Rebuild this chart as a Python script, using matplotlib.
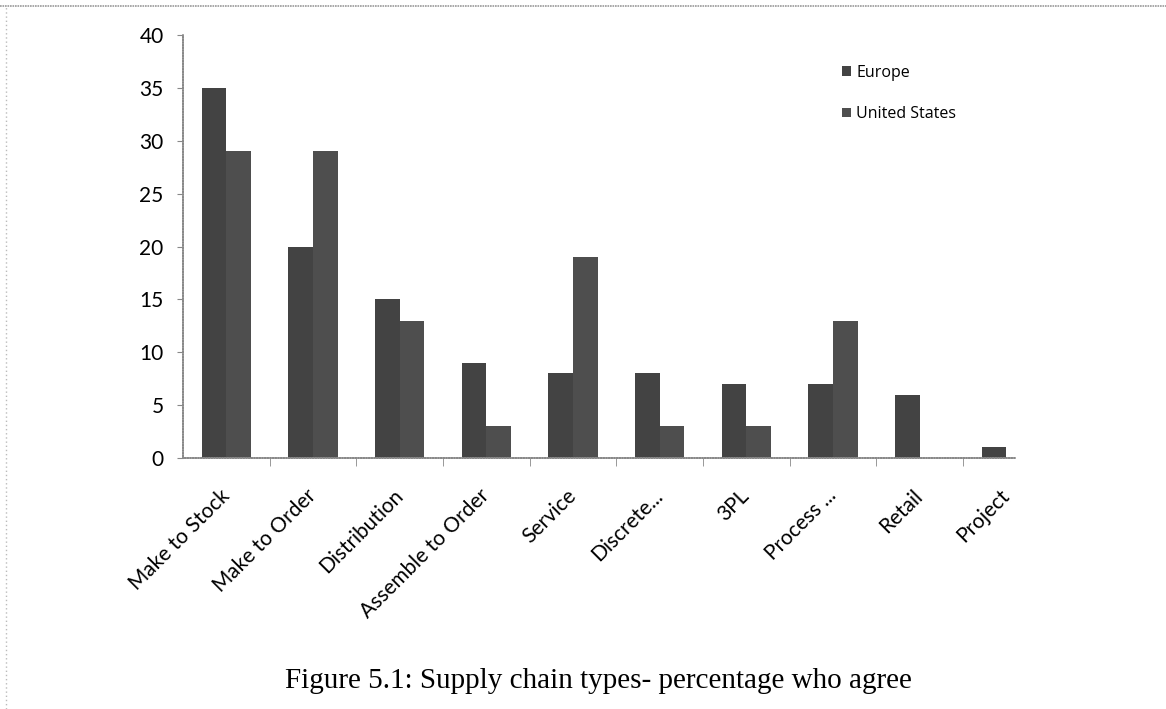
import matplotlib
matplotlib.use("Agg")
import matplotlib.pyplot as plt
from matplotlib.lines import Line2D
import numpy as np

# supply chain types, % who agree
categories = ["Make to Stock", "Make to Order", "Distribution", "Assemble to Order",
              "Service", "Discrete...", "3PL", "Process ...", "Retail", "Project"]
europe = [35, 20, 15, 9, 8, 8, 7, 7, 6, 1]
united_states = [29, 29, 13, 3, 19, 3, 3, 13, 0, 0]
series_names = ["Europe", "United States"]
y_ticks = [0, 5, 10, 15, 20, 25, 30, 35, 40]

fig = plt.figure(figsize=(11.66, 7.09), dpi=100)
ax = fig.add_axes([0.157, 0.354, 0.7135, 0.5966])

x = np.arange(len(categories))
w = 1 / 3.5
ax.bar(x - w / 2, europe, w, color="#434343", label=series_names[0])
ax.bar(x + w / 2, united_states, w, color="#4e4e4e", label=series_names[1])

ax.set_xlim(-0.5, 9.1)
ax.set_ylim(0, 40)
ax.set_yticks(y_ticks)
ax.tick_params(axis="y", labelsize=15, length=4, color="#888888", pad=10)
for t in ax.get_yticklabels():
    t.set_family("Lato")

# labels at the group centres, tick marks between groups
ax.set_xticks(x)
ax.set_xticklabels(categories, rotation=45, ha="right", va="center",
                   rotation_mode="anchor", fontsize=15, family="Lato")
ax.tick_params(axis="x", length=0, pad=25)
ax.set_xticks(x[:-1] + 0.5, minor=True)
ax.tick_params(axis="x", which="minor", length=6, color="#888888")

for s in ["top", "right"]:
    ax.spines[s].set_visible(False)
for s in ["left", "bottom"]:
    ax.spines[s].set_color("#888888")
    ax.spines[s].set_linewidth(1.2)
    ax.spines[s].set_linestyle((0, (1, 0.6)))

ax.legend(loc="upper left", bbox_to_anchor=(0.792, 0.93), frameon=False,
          prop={"family": "Open Sans", "size": 11.5}, handlelength=0.55,
          handleheight=0.55, handletextpad=0.35, labelspacing=1.6,
          borderpad=0, borderaxespad=0)

# dotted page edges
fig.add_artist(Line2D([0, 1], [0.992, 0.992], transform=fig.transFigure,
                      color="#999999", lw=1.2, ls=(0, (1, 0.5))))
fig.add_artist(Line2D([0.005, 0.005], [0, 0.992], transform=fig.transFigure,
                      color="#bbbbbb", lw=1, ls=(0, (1, 2))))

fig.text(0.513, 0.04, "Figure 5.1: Supply chain types- percentage who agree",
         ha="center", va="center", fontsize=21, family="Liberation Serif")

fig.savefig("out.png", dpi=100)
